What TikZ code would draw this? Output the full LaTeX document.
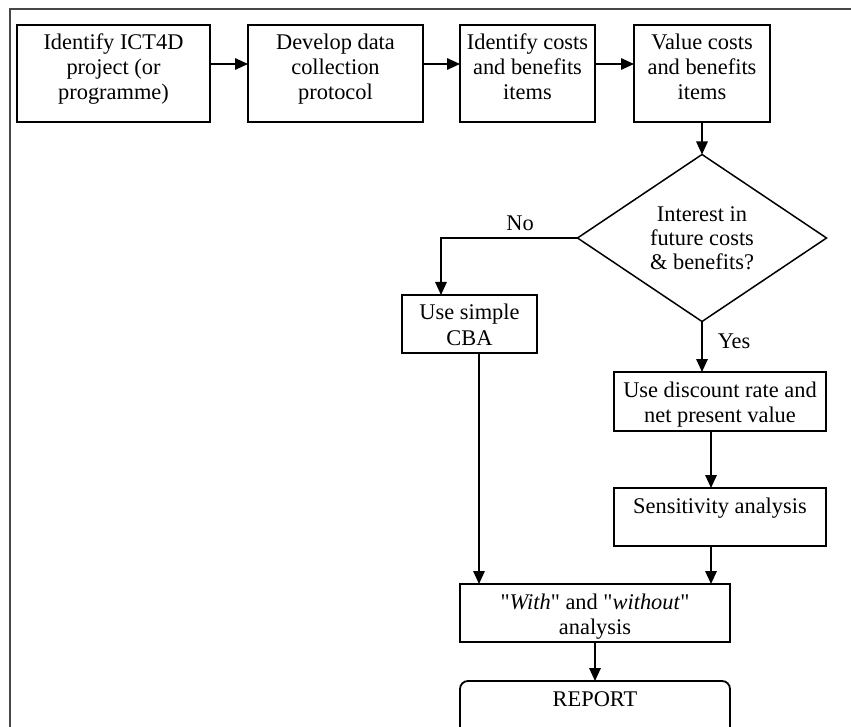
\documentclass[tikz,border=0pt]{standalone}
\usepackage{fontspec}
\setmainfont{Liberation Serif}[Ligatures=TeXOff]
\usetikzlibrary{arrows.meta,shapes.geometric}
% text block of a fixed size, lines centred and hung from the top edge
\newcommand{\boxlines}[3]{\parbox[c][#2][t]{#1}{\centering\rule{0pt}{25pt}#3}}
% straight double quote
\newcommand{\dq}{\char34\relax}

\begin{document}
\begin{tikzpicture}[x=1pt,y=-1pt,
  stepbox/.style={draw=black,line width=1.8pt,inner sep=0pt,outer sep=0pt,
    anchor=north west,font=\fontsize{22.4}{25}\selectfont},
  decision/.style={draw=black,line width=1.5pt,diamond,inner sep=0pt,outer sep=0pt,
    minimum width=249pt,minimum height=153pt,align=center,
    font=\fontsize{22.4}{24}\selectfont},
  flow/.style={line width=1.6pt,-{Triangle[length=13pt,width=11.5pt]}},
  tag/.style={font=\fontsize{22.4}{25}\selectfont,inner sep=0pt},
  frame/.style={draw=black!72,line width=2pt}]
\useasboundingbox (0,0) rectangle (851,727);
\clip (0,0) rectangle (851,727);

% open frame around the chart
\draw[frame] (10,9) rectangle (880,760);

% top row of steps
\node[stepbox] (b1) at (17,25)  {\boxlines{193pt}{97pt}{Identify ICT4D\\project (or\\programme)}};
\node[stepbox] (b2) at (248,25) {\boxlines{175pt}{97pt}{Develop data\\collection\\protocol}};
\node[stepbox] (b3) at (460,25) {\boxlines{135pt}{97pt}{Identify costs\\and benefits\\items}};
\node[stepbox] (b4) at (634,25) {\boxlines{136pt}{97pt}{Value costs\\and benefits\\items}};

% decision
\node[decision] (dia) at (702,238) {Interest in\\future costs\\\& benefits?};

% branches
\node[stepbox] (cba)  at (402,295) {\boxlines{135pt}{58pt}{Use simple\\CBA}};
\node[stepbox] (disc) at (614,372) {\boxlines{212pt}{59pt}{Use discount rate and\\net present value}};
\node[stepbox] (sens) at (614,488) {\boxlines{212pt}{58pt}{Sensitivity analysis}};
\node[stepbox] (with) at (460,584) {\boxlines{270pt}{58pt}{\dq\textit{With}\dq{} and \dq\textit{without}\dq\\analysis}};
\node[stepbox,rounded corners=8pt] (report) at (460,681) {\boxlines{270pt}{72pt}{REPORT}};

% connectors
\draw[flow] ([yshift=9.5pt]b1.east) -- ([yshift=9.5pt]b2.west);
\draw[flow] ([yshift=9.5pt]b2.east) -- ([yshift=9.5pt]b3.west);
\draw[flow] ([yshift=9.5pt]b3.east) -- ([yshift=9.5pt]b4.west);
\draw[flow] (b4.south) -- (dia.north);
\draw[flow] (dia.west) -| node[tag,above,pos=0.21,inner sep=6pt] (no) {No}
  ([xshift=-28.5pt]cba.north);
\draw[flow] (dia.south) -- node[tag,anchor=west,pos=0.39,xshift=15pt] (yes) {Yes}
  (dia.south |- disc.north);
\draw[flow] ([xshift=-9pt]disc.south) -- ([xshift=-9pt]sens.north);
\draw[flow] ([xshift=-9pt]sens.south) -- ([xshift=-9pt]sens.south |- with.north);
\draw[flow] ([xshift=9.5pt]cba.south) -- ([xshift=9.5pt]cba.south |- with.north);
\draw[flow] (with.south) -- (report.north);
\end{tikzpicture}
\end{document}
